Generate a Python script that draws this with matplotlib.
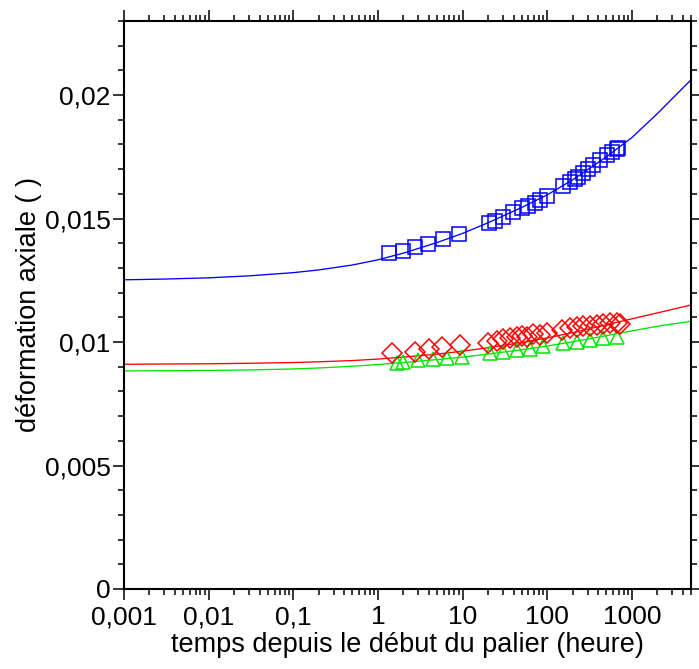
import matplotlib
matplotlib.use("Agg")
import matplotlib.pyplot as plt
from matplotlib.ticker import FixedLocator, LogLocator, FuncFormatter, NullFormatter
import numpy as np

plt.rcParams["font.family"] = ["Liberation Sans", "Arimo", "DejaVu Sans"]

# --- measured points (time in hours, axial strain) ---
t_blue = [1.35, 1.98, 2.74, 3.91, 5.88, 9.08, 20.5, 24.2, 30.1, 39.4, 50.4, 59.3, 71.8,
          82.2, 99.5, 154, 186, 213, 231, 265, 303, 348, 421, 509, 583, 668, 686]
y_blue = [0.01361, 0.01369, 0.01385, 0.01398, 0.01418, 0.01438, 0.01483, 0.01491, 0.01507,
          0.01527, 0.01543, 0.01552, 0.01564, 0.01576, 0.01592, 0.01633, 0.01649, 0.01661,
          0.01669, 0.01685, 0.01701, 0.01718, 0.01738, 0.01758, 0.01770, 0.01782, 0.01787]

t_red = [1.47, 2.74, 4.02, 5.71, 9.33, 20.0, 25.5, 30.1, 36.3, 44.0, 50.4, 57.7, 67.9,
         82.2, 99.5, 150, 186, 225, 265, 321, 388, 456, 552, 668, 725]
y_red = [0.00957, 0.00961, 0.00971, 0.00978, 0.00988, 0.00998, 0.01006, 0.01012, 0.01016,
         0.01020, 0.01025, 0.01020, 0.01032, 0.01029, 0.01036, 0.01049, 0.01056, 0.01060,
         0.01063, 0.01065, 0.01069, 0.01072, 0.01076, 0.01076, 0.01074]

t_green = [1.68, 1.98, 2.98, 4.48, 6.55, 9.85, 21.1, 30.1, 44.0, 62.6, 89.2, 154, 225,
           321, 456, 668]
y_green = [0.00916, 0.00921, 0.00928, 0.00931, 0.00935, 0.00941, 0.00957, 0.00961, 0.00968,
           0.00971, 0.00982, 0.00995, 0.01002, 0.01009, 0.01016, 0.01022]

# --- fitted curves ---
t_fit = [0.001, 0.003, 0.01, 0.03, 0.1, 0.2, 0.5, 1, 2, 5, 10, 20, 50, 100, 200, 500,
         1000, 2000, 5000]
fit_blue = [0.01252, 0.01255, 0.01260, 0.01268, 0.01281, 0.01292, 0.01312, 0.01333,
            0.01360, 0.01403, 0.01440, 0.01483, 0.01545, 0.01596, 0.01657, 0.01750,
            0.01828, 0.01925, 0.02062]
fit_red = [0.00910, 0.00911, 0.00912, 0.00914, 0.00917, 0.00920, 0.00925, 0.00931,
           0.00939, 0.00951, 0.00963, 0.00977, 0.00998, 0.01017, 0.01038, 0.01070,
           0.01094, 0.01118, 0.01150]
fit_green = [0.00883, 0.00884, 0.00885, 0.00887, 0.00891, 0.00895, 0.00902, 0.00909,
             0.00917, 0.00929, 0.00939, 0.00951, 0.00969, 0.00984, 0.01001, 0.01026,
             0.01045, 0.01064, 0.01084]

y_ticks = [0, 0.005, 0.01, 0.015, 0.02]
x_ticks = [0.001, 0.01, 0.1, 1, 10, 100, 1000]


def fr(v, pos=None):
    # french decimal comma
    if v == 0:
        return "0"
    if v >= 1:
        return "%d" % round(v)
    return ("%.4f" % v).rstrip("0").replace(".", ",")


fig = plt.figure(figsize=(6.99, 6.69), dpi=100)
ax = fig.add_axes([0.1774, 0.1196, 0.8112, 0.849])

ax.plot(t_fit, fit_blue, color="#0000ff", lw=0.95)
ax.plot(t_fit, fit_red, color="#ff0000", lw=0.95)
ax.plot(t_fit, fit_green, color="#00e600", lw=0.95)
ax.plot(t_green, y_green, "^", ms=10.5, mfc="none", mec="#00e600", mew=1.1)
ax.plot(t_red, y_red, "D", ms=10.5, mfc="none", mec="#ff0000", mew=1.1)
ax.plot(t_blue, y_blue, "s", ms=10, mfc="none", mec="#0000ff", mew=1.1)

ax.set_xscale("log")
ax.set_xlim(0.001, 5000)
ax.set_ylim(0, 0.023)
ax.xaxis.set_major_locator(FixedLocator(x_ticks))
ax.xaxis.set_minor_locator(LogLocator(base=10, subs=np.arange(2, 10)))
ax.xaxis.set_minor_formatter(NullFormatter())
ax.xaxis.set_major_formatter(FuncFormatter(fr))
ax.yaxis.set_major_locator(FixedLocator(y_ticks))
ax.yaxis.set_minor_locator(FixedLocator(np.arange(0, 0.0231, 0.001)))
ax.yaxis.set_major_formatter(FuncFormatter(fr))

ax.tick_params(which="both", direction="out", top=True, right=True, width=1.1,
               labelsize=19)
ax.tick_params(which="major", length=7.7, pad=2)
ax.tick_params(axis="x", which="major", pad=4)
ax.tick_params(which="minor", length=4)
for sp in ax.spines.values():
    sp.set_linewidth(1.5)

ax.set_xlabel("temps depuis le début du palier (heure)", fontsize=19.5, labelpad=2)
ax.set_ylabel("déformation axiale ( )", fontsize=19.5, labelpad=2)

fig.savefig("out.png", dpi=100)
